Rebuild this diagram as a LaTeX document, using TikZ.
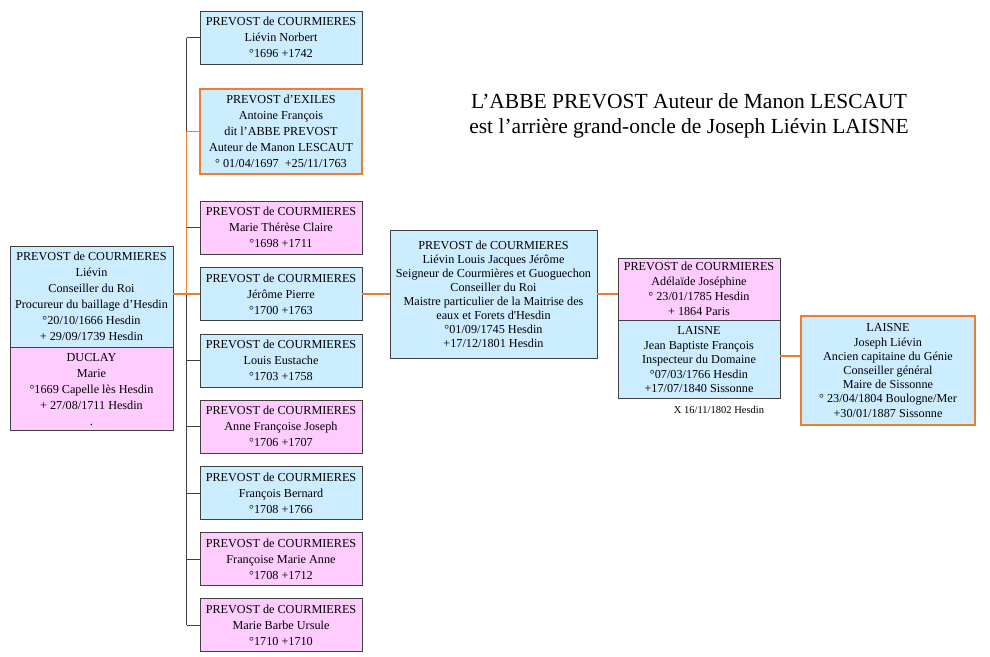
\documentclass[tikz,border=0pt]{standalone}
\usepackage{fontspec}
\setmainfont{Liberation Serif}
\usepackage{xcolor}
\usepackage{tikz}
\usetikzlibrary{calc}

\definecolor{bleuclair}{RGB}{204,236,255}
\definecolor{roseclair}{RGB}{255,204,255}
\definecolor{orangeL}{RGB}{237,125,49}
\definecolor{bordgris}{RGB}{64,64,64}

\begin{document}
\begin{tikzpicture}[x=1pt, y=-1pt,
    boite/.style={draw=bordgris, line width=0.9pt, inner sep=0pt, align=center, font=\fontsize{12.2}{16}\selectfont},
    bleu/.style={boite, fill=bleuclair},
    rose/.style={boite, fill=roseclair},
    cadre/.style={draw=orangeL, line width=1.8pt},
    enfant/.style={minimum width=162, minimum height=53},
    lien/.style={draw=bordgris, line width=0.9pt},
    lienor/.style={draw=orangeL, line width=1.8pt}]
    \useasboundingbox (0,0) rectangle (990,656);

    \node[font=\fontsize{21.5}{25}\selectfont, align=center] (titre) at (689,115.5)
        {L’ABBE PREVOST Auteur de Manon LESCAUT\\est l’arrière grand-oncle de Joseph Liévin LAISNE};

    % Parents
    \node[bleu, minimum width=163, minimum height=101] (pere) at (91.5,296.5)
        {PREVOST de COURMIERES\\Liévin\\Conseiller du Roi\\Procureur du baillage d’Hesdin\\°20/10/1666 Hesdin\\+ 29/09/1739 Hesdin};
    \node[rose, minimum width=163, minimum height=83, anchor=north] (mere) at (pere.south)
        {DUCLAY\\Marie\\°1669 Capelle lès Hesdin\\+ 27/08/1711 Hesdin\\.};

    % Enfants
    \node[bleu, enfant] (c1) at (281,37.5) {PREVOST de COURMIERES\\Liévin Norbert\\°1696 +1742};
    \node[bleu, enfant, cadre, minimum height=85] (c2) at (281,131.5) {PREVOST d’EXILES\\Antoine François\\dit l’ABBE PREVOST\\Auteur de Manon LESCAUT\\° 01/04/1697\ \ +25/11/1763};
    \node[rose, enfant] (c3) at (281,227.5) {PREVOST de COURMIERES\\Marie Thérèse Claire\\°1698 +1711};
    \node[bleu, enfant] (c4) at (281,294) {PREVOST de COURMIERES\\Jérôme Pierre\\°1700 +1763};
    \node[bleu, enfant] (c5) at (281,360.5) {PREVOST de COURMIERES\\Louis Eustache\\°1703 +1758};
    \node[rose, enfant] (c6) at (281,426.5) {PREVOST de COURMIERES\\Anne Françoise Joseph\\°1706 +1707};
    \node[bleu, enfant] (c7) at (281,493) {PREVOST de COURMIERES\\François Bernard\\°1708 +1766};
    \node[rose, enfant] (c8) at (281,559) {PREVOST de COURMIERES\\Françoise Marie Anne\\°1708 +1712};
    \node[rose, enfant] (c9) at (281,625) {PREVOST de COURMIERES\\Marie Barbe Ursule\\°1710 +1710};

    % Petit-fils
    \node[bleu, minimum width=207, minimum height=128, font=\fontsize{12.2}{14}\selectfont] (lievin) at (493.5,294)
        {PREVOST de COURMIERES\\Liévin Louis Jacques Jérôme\\Seigneur de Courmières et Guoguechon\\Conseiller du Roi\\Maistre particulier de la Maitrise des\\eaux et Forets d\textquotesingle Hesdin\\°01/09/1745 Hesdin\\+17/12/1801 Hesdin};

    % Couple
    \node[rose, minimum width=162, minimum height=62, font=\fontsize{12.2}{15}\selectfont] (epouse) at (699,289)
        {PREVOST de COURMIERES\\Adélaïde Joséphine\\° 23/01/1785 Hesdin\\+ 1864 Paris};
    \node[bleu, minimum width=162, minimum height=78, anchor=north, font=\fontsize{12.2}{14.5}\selectfont] (epoux) at (epouse.south)
        {LAISNE\\Jean Baptiste François\\Inspecteur du Domaine\\°07/03/1766 Hesdin\\+17/07/1840 Sissonne};
    \node[font=\fontsize{10.5}{12}\selectfont] (mariage) at (719,410) {X 16/11/1802 Hesdin};

    \node[bleu, cadre, minimum width=174, minimum height=109, font=\fontsize{12.2}{14.2}\selectfont] (joseph) at (888,370.5)
        {LAISNE\\Joseph Liévin\\Ancien capitaine du Génie\\Conseiller général\\Maire de Sissonne\\° 23/04/1804 Boulogne/Mer\\+30/01/1887 Sissonne};

    % Liens
    \coordinate (tronc) at (186.5,0);
    \draw[lien] (c1.west -| tronc) -- (c9.west -| tronc);
    \foreach \i in {1,...,9}
        \draw[lien] (c\i.west -| tronc) -- (c\i.west);
    \draw[lienor] (pere.east |- c4.west) -- (c4.west);
    \draw[lienor] (c4.west -| tronc) -- (c2.west -| tronc) -- (c2.west);
    \draw[lienor] (c4.east) -- (lievin.west);
    \draw[lienor] (lievin.east) -- (lievin.east -| epouse.west);
    \draw[lienor] ($(epoux.east)+(0,-4)$) -- ($(epoux.east -| joseph.west)+(0,-4)$);
\end{tikzpicture}
\end{document}
